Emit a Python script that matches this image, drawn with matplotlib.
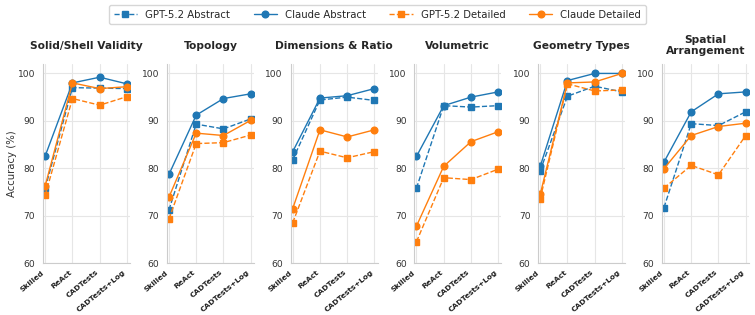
import matplotlib
matplotlib.use("Agg")
import matplotlib.pyplot as plt
import seaborn as sns
import numpy as np

sns.set_style("whitegrid")
plt.rcParams['font.family'] = ['DejaVu Sans']

# Data ---------------------------------------------------------------
methods = ['Skilled', 'ReAct', 'CADTests', 'CADTests+Log']
panels = ['Solid/Shell Validity', 'Topology', 'Dimensions & Ratio',
          'Volumetric', 'Geometry Types', 'Spatial\nArrangement']

gpt_abstract = [
    [75.8, 97.0, 96.9, 96.8],
    [71.2, 89.3, 88.3, 90.4],
    [81.8, 94.4, 95.0, 94.3],
    [75.8, 93.2, 92.9, 93.2],
    [79.5, 95.2, 97.3, 96.1],
    [71.7, 89.4, 89.0, 91.9],
]
claude_abstract = [
    [82.6, 98.0, 99.2, 97.8],
    [78.7, 91.2, 94.7, 95.7],
    [83.5, 94.8, 95.3, 96.8],
    [82.5, 93.2, 95.0, 96.1],
    [80.4, 98.5, 100.0, 100.0],
    [81.3, 91.9, 95.7, 96.1],
]
gpt_detailed = [
    [74.3, 94.7, 93.3, 95.1],
    [69.3, 85.2, 85.4, 87.0],
    [68.5, 83.6, 82.2, 83.5],
    [64.5, 78.0, 77.6, 79.8],
    [73.6, 97.8, 96.3, 96.5],
    [75.8, 80.6, 78.6, 86.9],
]
claude_detailed = [
    [76.3, 98.0, 96.8, 97.2],
    [73.9, 87.4, 86.9, 90.1],
    [71.5, 88.1, 86.6, 88.1],
    [67.8, 80.4, 85.6, 87.7],
    [74.5, 98.0, 98.2, 100.0],
    [79.9, 86.9, 88.8, 89.5],
]

series = [
    ('GPT-5.2 Abstract', gpt_abstract, '#1f77b4', 's', '--'),
    ('Claude Abstract', claude_abstract, '#1f77b4', 'o', '-'),
    ('GPT-5.2 Detailed', gpt_detailed, '#ff7f0e', 's', '--'),
    ('Claude Detailed', claude_detailed, '#ff7f0e', 'o', '-'),
]

# Plot ---------------------------------------------------------------
fig, axes = plt.subplots(1, 6, figsize=(7.55, 3.15), dpi=100)
fig.subplots_adjust(left=0.057, right=0.992, bottom=0.165, top=0.797, wspace=0.42)

x = np.arange(len(methods))
for i, ax in enumerate(axes):
    for name, vals, col, mk, ls in series:
        ax.plot(x, vals[i], color=col, marker=mk, linestyle=ls, linewidth=1.0,
                markersize=4.8, label=name)
    pad = 7 if '\n' in panels[i] else 10.5
    ax.set_title(panels[i], fontsize=7.7, fontweight='bold', pad=pad,
                 linespacing=1.1)
    ax.set_ylim(60, 102)
    ax.set_xlim(-0.08, 3.12)
    ax.set_yticks([60, 70, 80, 90, 100])
    ax.set_xticks(x)
    ax.set_xticklabels(methods, rotation=40, ha='right',
                       fontsize=5.4, fontweight='bold')
    ax.tick_params(axis='y', labelsize=6.6, pad=2, colors='#333333')
    ax.tick_params(axis='x', pad=1, colors='#222222')
    ax.grid(True, color='#e6e6e6', linewidth=0.8)
    for s in ['top', 'right']:
        ax.spines[s].set_visible(False)
    for s in ['left', 'bottom']:
        ax.spines[s].set_color('#cccccc')
        ax.spines[s].set_linewidth(0.8)

axes[0].set_ylabel('Accuracy (%)', fontsize=7.3, color='#333333', labelpad=1)

handles, labels = axes[0].get_legend_handles_labels()
fig.legend(handles, labels, loc='upper center', ncol=4, fontsize=7.3,
           bbox_to_anchor=(0.5, 1.0), frameon=True, handlelength=2.3,
           columnspacing=2.3, borderpad=0.45)

plt.savefig('out.png', dpi=100)
